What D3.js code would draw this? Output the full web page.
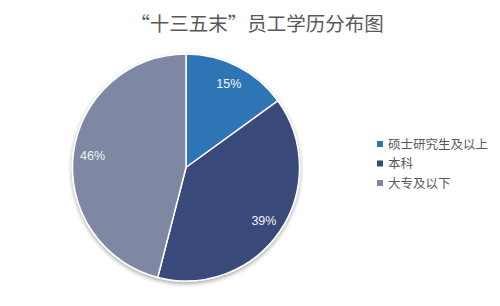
<!DOCTYPE html>
<html>
<head>
<meta charset="utf-8">
<script src="https://cdn.jsdelivr.net/npm/d3@7"></script>
<style>
  html, body { margin: 0; padding: 0; background: #fff; }
  svg { display: block; }
</style>
</head>
<body>
<svg id="chart" width="500" height="306"></svg>
<script>
// Education level distribution of staff at the end of the 13th Five-Year Plan
const titleText = "“十三五末”员工学历分布图";
const categories = ["硕士研究生及以上", "本科", "大专及以下"];
const shares = [15, 39, 46];
const colors = ["#2E75B6", "#37487A", "#7F88A3"];

const svg = d3.select("#chart");
const cx = 186, cy = 167.5, R = 113.5;
const cjk = "'Microsoft YaHei', 'Noto Sans CJK SC', sans-serif";

// soft shadow around the pie
const defs = svg.append("defs");
const f = defs.append("filter").attr("id", "pieShadow")
  .attr("x", "-20%").attr("y", "-20%").attr("width", "140%").attr("height", "140%");
f.append("feGaussianBlur").attr("in", "SourceAlpha").attr("stdDeviation", 2.2).attr("result", "b");
f.append("feOffset").attr("in", "b").attr("dx", 0).attr("dy", 1.5).attr("result", "o");
f.append("feComponentTransfer").attr("in", "o").attr("result", "s")
  .append("feFuncA").attr("type", "linear").attr("slope", 0.35);
const m = f.append("feMerge");
m.append("feMergeNode").attr("in", "s");
m.append("feMergeNode").attr("in", "SourceGraphic");

svg.append("text")
  .attr("x", 257).attr("y", 31)
  .attr("text-anchor", "middle")
  .attr("font-family", cjk)
  .attr("font-size", 19.5)
  .attr("fill", "#595959")
  .text(titleText);

const pie = d3.pie().sort(null).value(d => d)(shares);
const arc = d3.arc().innerRadius(0).outerRadius(R);
const labelArc = d3.arc().innerRadius(R * 0.83).outerRadius(R * 0.83);

const g = svg.append("g").attr("transform", `translate(${cx},${cy})`);
g.append("g").attr("filter", "url(#pieShadow)")
  .selectAll("path").data(pie).join("path")
  .attr("d", arc)
  .attr("fill", (d, i) => colors[i])
  .attr("stroke", "#fff")
  .attr("stroke-width", 1.5)
  .attr("stroke-linejoin", "round");

g.selectAll("text.lbl").data(pie).join("text")
  .attr("class", "lbl")
  .attr("transform", d => `translate(${labelArc.centroid(d)})`)
  .attr("text-anchor", "middle")
  .attr("dy", "0.36em")
  .attr("font-family", "'Liberation Sans', Arial, sans-serif")
  .attr("font-size", 12.5)
  .attr("fill", "#f4f4f4")
  .text(d => d.data + "%");

// legend
const legY = d3.scalePoint().domain(categories).range([144, 183]);
const leg = svg.append("g").selectAll("g").data(categories).join("g")
  .attr("transform", d => `translate(377,${legY(d)})`);
leg.append("rect")
  .attr("x", 0).attr("y", -3).attr("width", 6).attr("height", 6)
  .attr("fill", (d, i) => colors[i]);
leg.append("text")
  .attr("x", 11).attr("y", 0).attr("dy", "0.36em")
  .attr("font-family", cjk)
  .attr("font-size", 12.5)
  .attr("fill", "#595959")
  .text(d => d);
</script>
</body>
</html>
